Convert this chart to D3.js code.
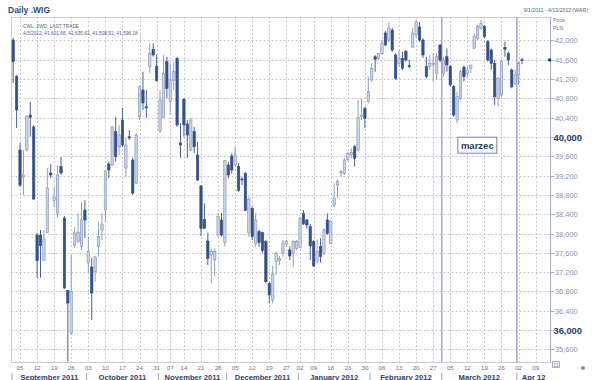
<!DOCTYPE html>
<html><head><meta charset="utf-8">
<script src="https://cdn.jsdelivr.net/npm/d3@7/dist/d3.min.js"></script>
<style>body{margin:0;background:#fff;} svg{display:block;font-family:"Liberation Sans",Arial,sans-serif;}</style>
</head><body>
<svg id="c" width="592" height="380"></svg>
<script>
// ---------- DATA ----------
const firstDate = "2011-09-01";
const lastTradeDate = "2012-04-03";
const axisEndDate = "2012-04-13";
const holidays = ["2011-11-01","2011-11-11","2011-12-26","2012-01-06"];

const opens = [42010,41250,39731,39171,39731,40456,40207,37969,37969,37437,38017,39254,38680,38425,39385,38321,36815,35938,37762,37831,
37727,38487,37389,37306,37209,37734,38073,38487,39440,39420,40110,39799,40352,39357,40006,39523,39047,40420,40974,40628,
41457,41818,41457,40131,40408,41561,40732,41167,41631,39876,40781,40270,39731,40110,39627,38985,38294,37845,37555,37451,
37969,38280,37810,39420,39606,39420,39385,39130,39248,38017,38522,37796,38038,38017,37831,36968,36622,37416,37437,37596,
37782,37658,37596,37693,37713,38418,38280,38142,37831,37430,37727,37589,38280,37796,38591,39005,39254,39248,39538,39627,
39799,39731,40421,40595,40732,41181,41664,41631,41735,42156,42010,42218,41700,41527,41631,41768,41480,41865,42114,42280,
42010,41457,41457,41500,41320,41907,41320,41664,41457,41043,40352,40802,41445,41320,41424,41838,42045,42253,42286,41975,
41803,41527,40802,40870,41859,41735,41389,41113,41285,41601.66];
const highs = [42052,41285,39876,39731,40456,40732,40249,38010,38073,38073,39357,39440,38964,39420,39585,38360,36830,37555,38135,38425,
38660,38694,37935,37493,37534,38245,38425,39316,39488,40228,40420,40249,40601,39979,40145,39565,40083,41057,41353,40974,
41942,41942,41700,40974,41700,41664,41527,41561,41664,40290,40808,40352,40394,40213,39903,39005,38625,38017,37693,37693,
38418,38425,39523,39488,39662,39787,39455,39177,39275,38763,38556,38418,38073,38038,37865,37001,37327,37624,37534,37865,
37865,37727,37852,37865,38349,38487,38300,38197,37865,37872,37900,38108,38418,38280,39040,39109,39316,39558,39696,39766,
39834,40767,40802,40628,41250,41527,41700,41735,42010,42200,42383,42259,41735,41803,41768,41803,41596,42259,42425,42383,
42052,41664,41700,41735,41740,41928,41658,41838,41492,41078,40939,41389,41492,41457,41492,42149,42321,42425,42321,42010,
41838,41596,41250,41596,41975,41768,41424,41389,41561,41635.62];
const lows = [41119,40187,38964,38798,39700,40006,38694,37078,37085,37430,38010,39150,38550,38321,39213,36850,35343,35897,37700,37803,
37658,37907,37182,36207,37001,37520,37865,38245,39150,39400,39488,39627,39799,39177,39938,38798,39026,40352,40560,40394,
41326,41664,41146,40083,40394,40802,40456,40974,40207,39565,40006,39565,39710,39668,39088,37948,38093,37347,36968,37119,
37935,37935,37727,39144,39247,39385,38867,39005,38466,37934,37865,37727,37727,37589,36968,36553,36553,37140,37347,37520,
37727,37451,37313,37658,37693,38176,38100,37451,37306,37382,37396,37555,37969,37782,38556,38729,39178,39213,39489,39558,
39385,39696,40352,40180,40698,41146,41353,41596,41700,41880,41969,41762,41181,41457,41389,41561,41424,41845,42052,41969,
41637,41216,41389,41146,41181,41554,41250,41353,41043,40421,40284,40767,41146,41250,41326,41818,42010,42218,42052,41561,
41389,40663,40628,40835,41664,41492,41009,41078,41078,41508.91];
const closes = [41561,40560,39005,39213,40420,40408,38715,37437,37747,37886,38943,39213,38757,39213,39254,36870,36560,36794,38010,38017,
38280,38280,37623,36767,37513,37935,38197,39295,39316,40207,39592,40041,39834,39834,39979,38839,40041,41042,40705,40601,
41735,41700,41167,40767,41320,41009,41181,41353,40249,39834,40249,40041,40352,39799,39109,38108,38108,37486,37623,37623,
38349,37969,39509,39213,39316,39627,38888,39109,38473,38709,37934,38280,37810,37644,37001,36725,37161,37589,37486,37803,
37831,37534,37831,37831,38315,38197,38176,37742,37327,37623,37520,38073,38004,38245,38729,39074,39288,39523,39662,39675,
39558,40408,40456,40388,40939,41424,41610,41735,41942,41907,42259,41803,41217,41631,41424,41596,41457,42155,42383,42010,
41700,41250,41527,41520,41664,41596,41596,41492,41078,40456,40835,41353,41250,41389,41492,42079,42286,42356,42079,41596,
41527,40835,41217,41561,41818,41596,41042,41285,41527,41598.18];

const yTickValues = [35600,36000,36400,36800,37200,37600,38000,38400,38800,39200,39600,40000,40400,40800,41200,41600,42000];
const yBoldValues = [36000,40000];
const monthNames = ["September 2011","October 2011","November 2011","December 2011","January 2012","February 2012","March 2012","Apr 12"];
const headerTitle = "Daily .WIG";
const infoLines = ["CWL, 2WD, LAST TRADE","4/3/2012, 41,601.66, 41,635.62, 41,508.91, 41,598.18"];
const rangeText = "9/1/2011 - 4/13/2012 (WAR)";
const unitLines = ["Price","PLN"];
const noteText = "marzec";
const noteMonth = "2012-03";
const noteLevel = 39830;

// ---------- BUILD ----------
const fmt = d3.timeFormat("%Y-%m-%d");
const parse = d3.timeParse("%Y-%m-%d");
const allDays = d3.timeDay.range(parse(firstDate), d3.timeDay.offset(parse(axisEndDate),1))
  .filter(d => d.getDay()!==0 && d.getDay()!==6)
  .filter(d => !(holidays.includes(fmt(d))));
const dateKeys = allDays.map(fmt);
const nTrade = dateKeys.indexOf(lastTradeDate)+1;
const data = dateKeys.slice(0,nTrade).map((k,i)=>({k, d:allDays[i], o:opens[i], h:highs[i], l:lows[i], c:closes[i]}));

const L = 11.5, R = 550.5, T = 17, B = 362;
const svg = d3.select("#c");
const x = d3.scaleBand().domain(dateKeys).range([L+0.5, R]).paddingInner(0.3).paddingOuter(0);
const cx = k => x(k) + x.bandwidth()/2;
const y = d3.scaleLinear().domain([35337, 42487]).range([B, T]);

const navy = "#34508a", light = "#c9d1e4", lightStroke = "#8593b6", grid = "#bdbdbd";

// week ticks: first trading day in each week (skip partial first week)
const weekTicks = [];
allDays.forEach((d,i)=>{
  if(i===0) return;
  const prev = allDays[i-1];
  if (d3.timeMonday.floor(d).getTime() !== d3.timeMonday.floor(prev).getTime()) weekTicks.push(dateKeys[i]);
});
// month boundaries
const seps = [L+0.5];
const monthStarts = [0];
allDays.forEach((d,i)=>{ if(i>0 && d.getMonth()!==allDays[i-1].getMonth()){ seps.push((cx(dateKeys[i-1])+cx(dateKeys[i]))/2); monthStarts.push(i);} });
const sepsEnd = seps.concat([R]);

// horizontal grid
svg.append("g").selectAll("line").data(yTickValues).join("line")
  .attr("x1",L).attr("x2",R).attr("y1",d=>Math.round(y(d))+0.5).attr("y2",d=>Math.round(y(d))+0.5)
  .attr("stroke",grid).attr("stroke-width",0.8).attr("stroke-dasharray","2,2");
// vertical grid
svg.append("g").selectAll("line").data(weekTicks).join("line")
  .attr("x1",d=>Math.round(cx(d))+0.5).attr("x2",d=>Math.round(cx(d))+0.5).attr("y1",T).attr("y2",B)
  .attr("stroke",grid).attr("stroke-width",0.8).attr("stroke-dasharray","2,2");

// frame
svg.append("rect").attr("x",L).attr("y",T+0.5).attr("width",R-L).attr("height",B-T)
  .attr("fill","none").attr("stroke","#c9ccd6").attr("stroke-width",1);
svg.append("line").attr("x1",R).attr("x2",R).attr("y1",T).attr("y2",B).attr("stroke","#a3aac0").attr("stroke-width",1);

// March lines
const mIdx = monthStarts.findIndex(i=>fmt(allDays[i]).startsWith(noteMonth));
const mx1 = sepsEnd[mIdx], mx2 = sepsEnd[mIdx+1];
[mx1,mx2].forEach(v=>svg.append("line").attr("x1",v).attr("x2",v).attr("y1",T).attr("y2",B)
  .attr("stroke","#9ea1c6").attr("stroke-width",1.4));

// header texts
svg.append("text").attr("x",8).attr("y",13).attr("font-size",8.5).attr("font-weight","bold").attr("fill","#2f4a7c").text(headerTitle);
infoLines.forEach((t,i)=>svg.append("text").attr("x",23).attr("y",28+i*6.5).attr("font-size",4.8).attr("fill","#56627e").text(t));
svg.append("text").attr("x",588).attr("y",12).attr("text-anchor","end").attr("font-size",5.2).attr("fill","#56627e").text(rangeText);
unitLines.forEach((t,i)=>svg.append("text").attr("x",553).attr("y",22+i*8).attr("font-size",5.3).attr("fill","#6a7390").text(t));

// candles
const g = svg.append("g");
const bw = x.bandwidth();
data.forEach(d=>{
  const up = d.c >= d.o;
  const col = up ? lightStroke : navy;
  const xc = cx(d.k);
  g.append("line").attr("x1",xc).attr("x2",xc).attr("y1",y(d.h)).attr("y2",y(d.l)).attr("stroke",col).attr("stroke-width",0.9);
  const top = y(Math.max(d.o,d.c)), bot = y(Math.min(d.o,d.c));
  g.append("rect").attr("x",xc-bw/2).attr("y",top).attr("width",bw).attr("height",Math.max(bot-top,0.9))
    .attr("fill", up ? light : navy).attr("stroke",col).attr("stroke-width",0.6);
});

// right axis labels
const ya = svg.append("g");
yTickValues.forEach(v=>{
  const yy = Math.round(y(v))+0.5;
  const bold = yBoldValues.includes(v);
  ya.append("line").attr("x1",R).attr("x2",R+4).attr("y1",yy).attr("y2",yy).attr("stroke","#9aa2b8").attr("stroke-width",0.8);
  ya.append("text").attr("x",bold?553.5:555).attr("y",yy+ (bold?3.2:2.6)).attr("font-size",bold?9.3:7.4)
    .attr("font-weight",bold?"bold":"normal").attr("fill",bold?"#1f3a6e":"#8a92ab").text(d3.format(",")(v));
});
// last price marker
svg.append("circle").attr("cx",R-1).attr("cy",y(closes[nTrade-1])).attr("r",1.7).attr("fill","#1f3a6e");

// x axis tick labels
svg.append("g").selectAll("text").data(weekTicks).join("text")
  .attr("x",d=>cx(d)).attr("y",369.5).attr("text-anchor","middle").attr("font-size",6.2).attr("fill","#6b7390")
  .text(d=>d.slice(8));
// month separators and labels
seps.forEach(v=>svg.append("line").attr("x1",v).attr("x2",v).attr("y1",373).attr("y2",380).attr("stroke","#9aa2b8").attr("stroke-width",1));
monthNames.forEach((t,i)=>svg.append("text").attr("x",(sepsEnd[i]+sepsEnd[i+1])/2).attr("y",379.5)
  .attr("text-anchor","middle").attr("font-size",7.6).attr("font-weight","bold").attr("fill","#2a4170").text(t));

// note box
const nx = (mx1+mx2)/2 - 2, ny = y(noteLevel);
svg.append("rect").attr("x",nx-19.5).attr("y",ny-8).attr("width",39).attr("height",16).attr("fill","#fff").attr("stroke","#7b82aa").attr("stroke-width",1);
svg.append("text").attr("x",nx).attr("y",ny+3.3).attr("text-anchor","middle").attr("font-size",9.5).attr("font-weight","bold").attr("fill","#233d70").text(noteText);

// bottom-right decorations
svg.append("rect").attr("x",552.5).attr("y",361.5).attr("width",7).attr("height",6).attr("fill","#fff").attr("stroke","#9aa2b8").attr("stroke-width",0.8);
svg.append("text").attr("x",556).attr("y",366.5).attr("text-anchor","middle").attr("font-size",4.5).attr("fill","#6b7390").text("13");
svg.append("circle").attr("cx",583).attr("cy",368).attr("r",2).attr("fill","#8a8f9c");
</script>
</body></html>
